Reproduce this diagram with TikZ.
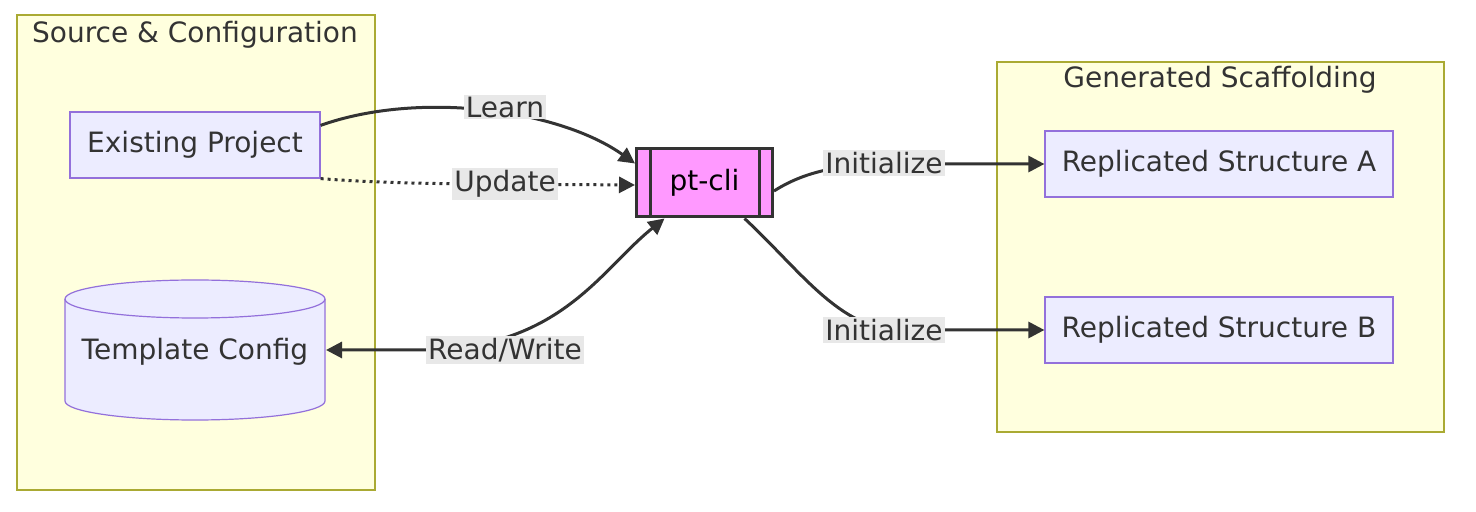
\documentclass[tikz,border=0pt]{standalone}
\usepackage{fontspec}
\setmainfont{DejaVu Sans}
\usetikzlibrary{shapes.geometric,arrows.meta,positioning}
\definecolor{clfill}{HTML}{FFFFDE}
\definecolor{clline}{HTML}{AAAA33}
\definecolor{ndfill}{HTML}{ECECFF}
\definecolor{ndline}{HTML}{9370DB}
\definecolor{clifill}{HTML}{FF99FF}
\definecolor{edge}{HTML}{333333}
\definecolor{lblfill}{HTML}{E8E8E8}
\tikzset{
  cluster/.style={draw=clline, fill=clfill, line width=0.6pt},
  box/.style={draw=ndline, fill=ndfill, line width=0.6pt, minimum height=33pt, font=\fontsize{14}{16}\selectfont, text=edge},
  conn/.style={draw=edge, line width=1.5pt, -{Triangle[length=8pt,width=8pt]}},
  lbl/.style={fill=lblfill, inner sep=1pt, font=\fontsize{14}{16}\selectfont, text=edge},
  title/.style={font=\fontsize{14}{16}\selectfont, text=edge}
}
\begin{document}
\begin{tikzpicture}[x=0.5pt,y=-0.5pt]
        \useasboundingbox (0,0) rectangle (1476,512);
        % clusters
        \draw[cluster] (17,15) rectangle (375,490);
        \node[title] (srcT) at (195,35) {Source \& Configuration};
        \draw[cluster] (997,62) rectangle (1444,432);
        \node[title] (genT) at (1220,80) {Generated Scaffolding};
        % nodes
        \node[box, minimum width=125pt] (proj) at (195,145) {Existing Project};
        \draw[draw=ndline, fill=ndfill, line width=0.6pt] (65,299) -- (65,401) arc[start angle=180, end angle=0, x radius=130, y radius=19] -- (325,299) arc[start angle=0, end angle=-180, x radius=130, y radius=19];
        \draw[draw=ndline, line width=0.6pt] (65,299) arc[start angle=180, end angle=0, x radius=130, y radius=19];
        \node[title] (tmpl) at (195,352) {Template Config};
        \coordinate (tmplE) at (326,350);
        \node[draw=edge, fill=clifill, line width=1.5pt, minimum width=68pt, minimum height=34pt, font=\fontsize{14}{16}\selectfont] (cli) at (704.5,183) {pt-cli};
        \draw[edge, line width=1.5pt] ([xshift=7.5pt]cli.north west) -- ([xshift=7.5pt]cli.south west);
        \draw[edge, line width=1.5pt] ([xshift=-7.5pt]cli.north east) -- ([xshift=-7.5pt]cli.south east);
        \node[box, minimum width=174pt] (repA) at (1219,164) {Replicated Structure A};
        \node[box, minimum width=174pt] (repB) at (1219,330) {Replicated Structure B};
        % connectors
        \draw[conn] ([yshift=-7pt]proj.north east) .. controls (420,90) and (560,110) .. ([yshift=-8pt]cli.north west);
        \node[lbl] (lLearn) at (505,107) {Learn};
        \draw[conn, dotted] (proj.south east) .. controls (400,185) and (500,184) .. ([yshift=-1pt]cli.west);
        \node[lbl] (lUpd) at (505,184) {Update};
        \draw[conn, {Triangle[length=8pt,width=8pt]}-{Triangle[length=8pt,width=8pt]}] (tmplE) -- (420,350) .. controls (560,350) and (600,270) .. ([xshift=-20pt]cli.south);
        \node[lbl] (lRW) at (505,350) {Read/Write};
        \draw[conn] ([yshift=-4pt]cli.east) .. controls (810,168) and (850,164) .. (900,164) -- (repA.west);
        \node[lbl] (lInitA) at (884,163) {Initialize};
        \draw[conn] ([xshift=20pt]cli.south) .. controls (800,270) and (840,330) .. (900,330) -- (repB.west);
        \node[lbl] (lInitB) at (884,330) {Initialize};
\end{tikzpicture}
\end{document}
